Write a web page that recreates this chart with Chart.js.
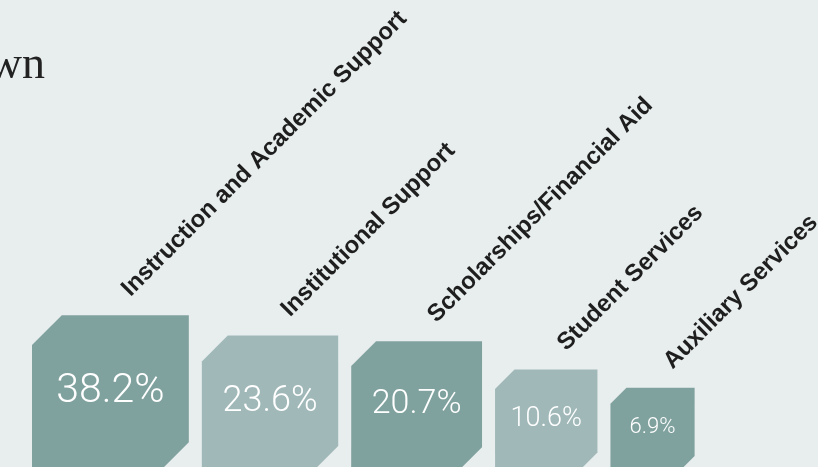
<!DOCTYPE html>
<html>
<head>
<meta charset="utf-8">
<script src="https://cdn.jsdelivr.net/npm/chart.js@4.4.1/dist/chart.umd.min.js"></script>
<style>
  html, body { margin: 0; padding: 0; background: #e8eeee; overflow: hidden; }
  #wrap { position: relative; width: 818px; height: 472px; }
</style>
</head>
<body>
<div id="wrap"><canvas id="myChart"></canvas></div>
<script>
// data
var categories = [
  "Instruction and Academic Support",
  "Institutional Support",
  "Scholarships/Financial Aid",
  "Student Services",
  "Auxiliary Services",
];
var shares = [38.2, 23.6, 20.7, 10.6, 6.9];
var titleText = "Expense Breakdown";

var darkFill = "#80a29f";
var lightFill = "#a1b8b9";

// each bar is drawn as a square (side = bar height on the log scale)
// with the top-left and bottom-right corners cut off
var chamferBars = {
  id: "chamferBars",
  beforeDatasetDraw: function (chart, args) {
    var ctx = chart.ctx;
    var left = chart.chartArea.left + 32;
    args.meta.data.forEach(function (bar, i) {
      var top = bar.y;
      var side = bar.base - bar.y;
      var cut = side * 0.19;
      var cx = left + side / 2;

      ctx.save();
      ctx.fillStyle = i % 2 === 0 ? darkFill : lightFill;
      ctx.beginPath();
      ctx.moveTo(left + cut, top);
      ctx.lineTo(left + side, top);
      ctx.lineTo(left + side, top + side - cut);
      ctx.lineTo(left + side - cut, top + side);
      ctx.lineTo(left, top + side);
      ctx.lineTo(left, top + cut);
      ctx.closePath();
      ctx.fill();

      ctx.fillStyle = "#ffffff";
      ctx.font = "300 " + Math.round(side * 0.263) + "px Roboto, 'Liberation Sans', sans-serif";
      ctx.textAlign = "center";
      ctx.textBaseline = "middle";
      ctx.fillText(shares[i].toFixed(1) + "%", cx, top + side / 2 - 2);

      ctx.translate(cx + 20, top - 18);
      ctx.rotate(-Math.PI / 4);
      ctx.fillStyle = "#1e1e1e";
      ctx.font = "bold 24px 'Liberation Sans', Arial, sans-serif";
      ctx.textAlign = "left";
      ctx.textBaseline = "alphabetic";
      ctx.fillText(categories[i], 0, 0);
      ctx.restore();

      left += side + 13;
    });
    return false;
  },
  afterDraw: function (chart) {
    var ctx = chart.ctx;
    ctx.save();
    ctx.fillStyle = "#222222";
    ctx.font = "46px 'Liberation Serif', serif";
    ctx.textAlign = "right";
    ctx.textBaseline = "alphabetic";
    ctx.fillText(titleText, 45, 78);
    ctx.restore();
  },
};

var ctx = document.getElementById("myChart");
var myChart = new Chart(ctx, {
  type: "bar",
  data: {
    labels: categories,
    datasets: [
      {
        label: "Share of expenses",
        data: shares,
        backgroundColor: [darkFill, lightFill, darkFill, lightFill, darkFill],
      },
    ],
  },
  options: {
    responsive: true,
    maintainAspectRatio: false,
    animation: false,
    layout: { padding: 0 },
    plugins: {
      legend: { display: false },
      tooltip: { enabled: false },
    },
    scales: {
      x: { display: false },
      y: {
        type: "logarithmic",
        display: false,
        min: 0.95,
        max: 64000,
      },
    },
  },
  plugins: [chamferBars],
});
</script>
</body>
</html>
